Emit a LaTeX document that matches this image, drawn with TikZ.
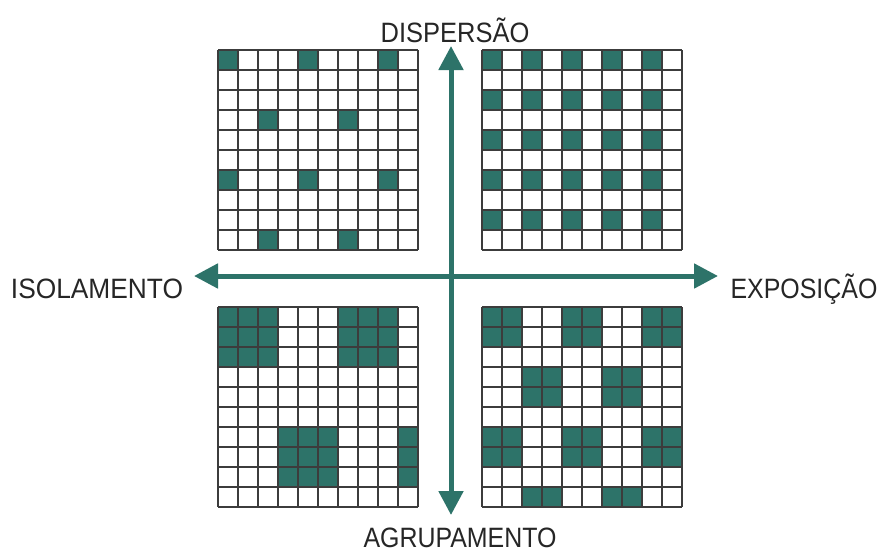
\documentclass[tikz,border=0pt]{standalone}
\usepackage{fontspec}
\setmainfont{Liberation Sans}
\usetikzlibrary{arrows.meta}
\definecolor{teal1}{RGB}{45,115,105}
\definecolor{gridc}{RGB}{60,60,60}
\tikzset{
  cellfill/.style={fill=teal1},
  gridline/.style={draw=gridc,line width=1.3pt},
  axis/.style={draw=teal1,line width=5pt,{Triangle[length=24pt,width=24pt]}-{Triangle[length=24pt,width=24pt]}},
  lbl/.style={anchor=base,inner sep=0pt,font=\fontsize{28}{30}\selectfont,text=black!85}
}
\newcommand{\cellsq}[3]{% origin x, origin y (top-left), {col/row list}
  \foreach \c/\r in {#3} {
    \fill[cellfill] (#1+\c*20,#2+\r*20) rectangle ++(20,20);
  }
}
\newcommand{\gridsq}[2]{%
  \foreach \i in {0,...,10} {
    \draw[gridline] (#1+\i*20,#2) -- (#1+\i*20,#2+200);
    \draw[gridline] (#1,#2+\i*20) -- (#1+200,#2+\i*20);
  }
}
\begin{document}
\begin{tikzpicture}[x=1pt,y=-1pt]
\useasboundingbox (0,0) rectangle (882,552);
\fill[white] (0,0) rectangle (882,552);
% top-left: dispersion, isolation
\cellsq{218}{50}{0/0,4/0,8/0,2/3,6/3,0/6,4/6,8/6,2/9,6/9}
\gridsq{218}{50}
% top-right: dispersion, exposure
\cellsq{482}{50}{0/0,2/0,4/0,6/0,8/0,0/2,2/2,4/2,6/2,8/2,0/4,2/4,4/4,6/4,8/4,0/6,2/6,4/6,6/6,8/6,0/8,2/8,4/8,6/8,8/8}
\gridsq{482}{50}
% bottom-left: clustering, isolation
\cellsq{218}{307}{0/0,1/0,2/0,0/1,1/1,2/1,0/2,1/2,2/2,6/0,7/0,8/0,6/1,7/1,8/1,6/2,7/2,8/2,3/6,4/6,5/6,3/7,4/7,5/7,3/8,4/8,5/8,9/6,9/7,9/8}
\gridsq{218}{307}
% bottom-right: clustering, exposure
\cellsq{482}{307}{0/0,1/0,0/1,1/1,4/0,5/0,4/1,5/1,8/0,9/0,8/1,9/1,2/3,3/3,2/4,3/4,6/3,7/3,6/4,7/4,0/6,1/6,0/7,1/7,4/6,5/6,4/7,5/7,8/6,9/6,8/7,9/7,2/9,3/9,6/9,7/9}
\gridsq{482}{307}
% axes
\coordinate (top) at (451,46);
\coordinate (bot) at (451,515);
\coordinate (lft) at (194,276);
\coordinate (rgt) at (718,276);
\draw[axis] (bot) -- (top);
\draw[axis] (lft) -- (rgt);
% labels
\node[lbl] (disp) at (455,42) {\scalebox{0.91}[1]{DISPERSÃO}};
\node[lbl] (isol) at (97,298) {\scalebox{0.94}[1]{ISOLAMENTO}};
\node[lbl] (expo) at (804,298) {\scalebox{0.89}[1]{EXPOSIÇÃO}};
\node[lbl] (agru) at (460,547) {\scalebox{0.89}[1]{AGRUPAMENTO}};
\end{tikzpicture}
\end{document}
